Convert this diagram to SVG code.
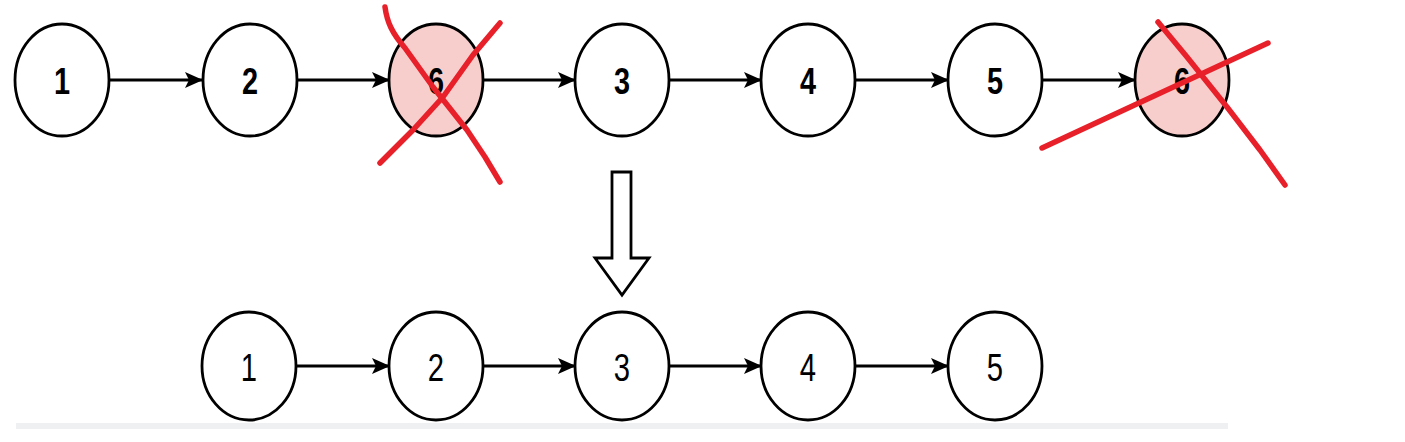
<svg xmlns="http://www.w3.org/2000/svg" width="1405" height="442" viewBox="0 0 1405 442">
<style>
.n{fill:#ffffff;stroke:#000;stroke-width:2.8}
.d{fill:#f8cecc;stroke:#000;stroke-width:2.8}
.t{font-family:"Liberation Sans",Arial,sans-serif;font-size:37px;font-weight:bold;fill:#000;text-anchor:middle}
.tb{font-family:"Liberation Sans",Arial,sans-serif;font-size:39px;fill:#000;text-anchor:middle}
.e{stroke:#000;stroke-width:3;fill:none;marker-end:url(#ah)}
.x{stroke:#e8202a;stroke-width:5.5;fill:none;stroke-linecap:round;stroke-linejoin:round}
</style>
<defs>
<marker id="ah" viewBox="0 0 18 16" refX="17" refY="8" markerWidth="18" markerHeight="16" markerUnits="userSpaceOnUse" orient="auto">
<path d="M0,0 L18,8 L0,16 L4,8 Z" fill="#000"/>
</marker>
</defs>
<rect x="16" y="423" width="1212" height="6" fill="#eff0f2"/>
<g id="connectors">
<line class="e" x1="110" y1="80" x2="202" y2="80"/>
<line class="e" x1="297" y1="80" x2="389" y2="80"/>
<line class="e" x1="484" y1="80" x2="575" y2="80"/>
<line class="e" x1="670" y1="80" x2="761" y2="80"/>
<line class="e" x1="856" y1="80" x2="948" y2="80"/>
<line class="e" x1="1043" y1="80" x2="1135" y2="80"/>
<line class="e" x1="296" y1="366" x2="389" y2="366"/>
<line class="e" x1="483" y1="366" x2="575" y2="366"/>
<line class="e" x1="669" y1="366" x2="761" y2="366"/>
<line class="e" x1="855" y1="366" x2="948" y2="366"/>
<path id="big-arrow" d="M612,172 L631,172 L631,258 L649,258 L622,295 L595,258 L612,258 Z" fill="#fff" stroke="#000" stroke-width="2.8" stroke-linejoin="miter"/>
</g>
<g id="top-1"><ellipse class="n" cx="62" cy="80" rx="47" ry="56"/><text class="t" transform="translate(62,94) scale(0.78,1)">1</text></g>
<g id="top-2"><ellipse class="n" cx="250" cy="80" rx="47" ry="56"/><text class="t" transform="translate(250,94) scale(0.78,1)">2</text></g>
<g id="top-6a"><ellipse class="d" cx="436" cy="80" rx="47" ry="56"/><text class="t" transform="translate(436,94) scale(0.78,1)">6</text></g>
<g id="top-3"><ellipse class="n" cx="622" cy="80" rx="47" ry="56"/><text class="t" transform="translate(622,94) scale(0.78,1)">3</text></g>
<g id="top-4"><ellipse class="n" cx="808" cy="80" rx="47" ry="56"/><text class="t" transform="translate(808,94) scale(0.78,1)">4</text></g>
<g id="top-5"><ellipse class="n" cx="995" cy="80" rx="47" ry="56"/><text class="t" transform="translate(995,94) scale(0.78,1)">5</text></g>
<g id="top-6b"><ellipse class="d" cx="1182" cy="80" rx="47" ry="56"/><text class="t" transform="translate(1182,94) scale(0.78,1)">6</text></g>
<g id="bot-1"><ellipse class="n" cx="249" cy="366" rx="47" ry="54"/><text class="tb" transform="translate(249,381) scale(0.75,1)">1</text></g>
<g id="bot-2"><ellipse class="n" cx="436" cy="366" rx="47" ry="54"/><text class="tb" transform="translate(436,381) scale(0.75,1)">2</text></g>
<g id="bot-3"><ellipse class="n" cx="622" cy="366" rx="47" ry="54"/><text class="tb" transform="translate(622,381) scale(0.75,1)">3</text></g>
<g id="bot-4"><ellipse class="n" cx="808" cy="366" rx="47" ry="54"/><text class="tb" transform="translate(808,381) scale(0.75,1)">4</text></g>
<g id="bot-5"><ellipse class="n" cx="995" cy="366" rx="47" ry="54"/><text class="tb" transform="translate(995,381) scale(0.75,1)">5</text></g>
<g id="cross-1">
<path class="x" d="M385,7 C387,22 392,33 405,48 L433,87 L467,130 L485,157 L500,182"/>
<path class="x" d="M500,23 L473,55 L443,97 L413,130 L380,163"/>
</g>
<g id="cross-2">
<path class="x" d="M1158,22 L1187,57 L1227,107 L1260,150 L1285,185"/>
<path class="x" d="M1042,148 L1268,43"/>
</g>
</svg>
